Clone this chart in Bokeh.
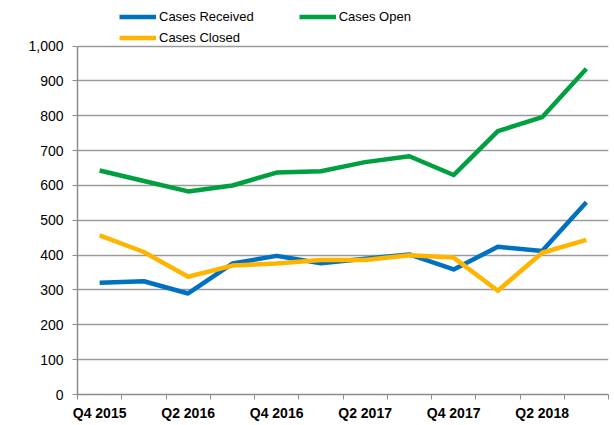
from bokeh.plotting import figure
from bokeh.models import (Range1d, FixedTicker, NumeralTickFormatter, Legend, LegendItem,
                          ColumnDataSource)
from bokeh.embed import file_html
from bokeh.resources import INLINE

quarters = ["Q4 2015", "Q1 2016", "Q2 2016", "Q3 2016", "Q4 2016", "Q1 2017",
            "Q2 2017", "Q3 2017", "Q4 2017", "Q1 2018", "Q2 2018", "Q3 2018"]
cases_received = [321, 325, 290, 376, 398, 377, 390, 402, 359, 424, 412, 552]
cases_open = [643, 613, 583, 600, 637, 641, 667, 684, 630, 756, 796, 935]
cases_closed = [457, 409, 338, 370, 376, 386, 386, 400, 393, 298, 407, 444]
y_ticks = [0, 100, 200, 300, 400, 500, 600, 700, 800, 900, 1000]

BLUE = "#0070C0"
GREEN = "#00A040"
GOLD = "#FFB400"
FONT = "Liberation Sans"

n = len(quarters)
xs = list(range(n))
src = ColumnDataSource(dict(x=xs, received=cases_received, open=cases_open, closed=cases_closed))

# the frame reaches the top of the canvas so that the legend (drawn inside it) is not clipped;
# the axis itself is bounded to 0..1000
p = figure(width=612, height=423, output_backend="svg", toolbar_location=None,
           x_range=Range1d(-0.5, n - 0.5), y_range=Range1d(0, 1131),
           min_border_left=77, min_border_right=4, min_border_top=0, min_border_bottom=24)
p.outline_line_color = None
p.background_fill_color = "white"
p.border_fill_color = "white"

r_rec = p.line("x", "received", source=src, line_color=BLUE, line_width=4.5, line_join="round")
r_open = p.line("x", "open", source=src, line_color=GREEN, line_width=4.5, line_join="round")
r_closed = p.line("x", "closed", source=src, line_color=GOLD, line_width=4.5, line_join="round")

# x axis: labels every other quarter, tick marks at category boundaries
label_pos = xs[::2]
p.xaxis.ticker = FixedTicker(ticks=label_pos, minor_ticks=[i - 0.5 for i in range(n + 1)])
p.xaxis.major_label_overrides = {i: quarters[i] for i in label_pos}
p.xaxis.major_tick_out = 0
p.xaxis.major_tick_in = 0
p.xaxis.minor_tick_out = 5
p.xaxis.minor_tick_in = 0
p.xaxis.minor_tick_line_color = "#8C8C8C"
p.xaxis.axis_line_color = "#8C8C8C"
p.xaxis.axis_line_width = 1.5
p.xaxis.major_label_text_font = FONT
p.xaxis.major_label_text_font_size = "14px"
p.xaxis.major_label_text_font_style = "bold"
p.xaxis.major_label_text_color = "#000000"
p.xaxis.major_label_standoff = 5
p.xgrid.grid_line_color = None

p.yaxis.ticker = FixedTicker(ticks=y_ticks)
p.yaxis.bounds = (y_ticks[0], y_ticks[-1])
p.yaxis.formatter = NumeralTickFormatter(format="0,0")
p.yaxis.major_tick_out = 5
p.yaxis.major_tick_in = 0
p.yaxis.minor_tick_line_color = None
p.yaxis.major_tick_line_color = "#8C8C8C"
p.yaxis.axis_line_color = "#8C8C8C"
p.yaxis.axis_line_width = 1.5
p.yaxis.major_label_text_font = FONT
p.yaxis.major_label_text_font_size = "14px"
p.yaxis.major_label_text_color = "#000000"
p.yaxis.major_label_standoff = 9
p.ygrid.ticker = FixedTicker(ticks=y_ticks)
p.ygrid.grid_line_color = "#9A9A9A"
p.ygrid.grid_line_width = 1.5


def make_legend(items, loc):
    return Legend(items=items, location=loc, orientation="horizontal",
                  glyph_width=37, glyph_height=15, label_standoff=3, spacing=45,
                  padding=0, margin=0, border_line_color=None,
                  background_fill_alpha=0, label_height=21,
                  label_text_font=FONT, label_text_font_size="13px",
                  label_text_color="#000000")


leg1 = make_legend([LegendItem(label="Cases Received", renderers=[r_rec]),
                    LegendItem(label="Cases Open", renderers=[r_open])], (42, 367))
leg2 = make_legend([LegendItem(label="Cases Closed", renderers=[r_closed])], (42, 346))
p.add_layout(leg1, "center")
p.add_layout(leg2, "center")

open("out.html", "w").write(file_html(p, INLINE))
